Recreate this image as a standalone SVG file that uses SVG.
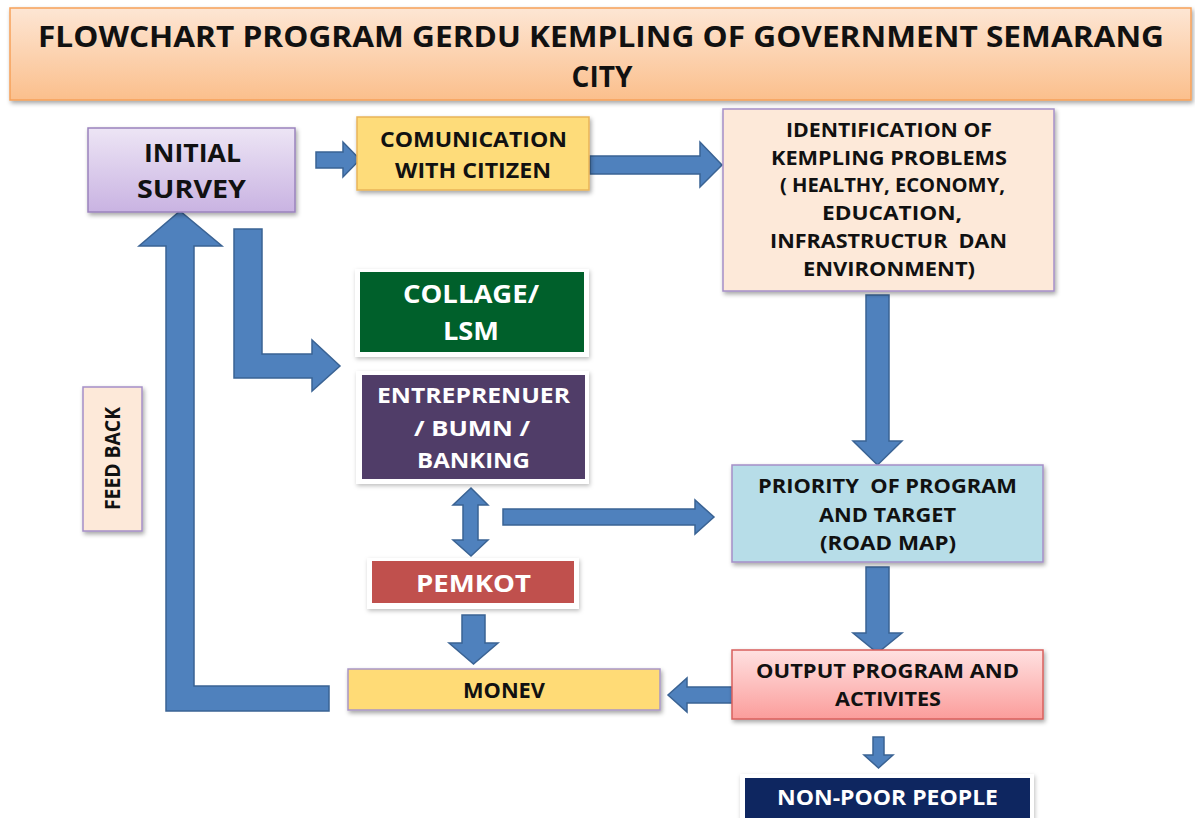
<svg xmlns="http://www.w3.org/2000/svg" width="1195" height="818" viewBox="0 0 1195 818">
  <defs>
    <linearGradient id="gTitle" x1="0" y1="0" x2="0" y2="1">
      <stop offset="0" stop-color="#fde6d4"/>
      <stop offset="1" stop-color="#fbbf8c"/>
    </linearGradient>
    <linearGradient id="gSurvey" x1="0" y1="0" x2="0" y2="1">
      <stop offset="0" stop-color="#ede5f5"/>
      <stop offset="1" stop-color="#c9b3e2"/>
    </linearGradient>
    <linearGradient id="gOutput" x1="0" y1="0" x2="0" y2="1">
      <stop offset="0" stop-color="#ffe1e1"/>
      <stop offset="1" stop-color="#fb9d9b"/>
    </linearGradient>
    <filter id="shadow" x="-10%" y="-10%" width="130%" height="140%">
      <feDropShadow dx="1.5" dy="2.5" stdDeviation="2" flood-color="#000" flood-opacity="0.35"/>
    </filter>
    <filter id="softShadow" x="-10%" y="-10%" width="130%" height="140%">
      <feDropShadow dx="1" dy="2" stdDeviation="2" flood-color="#000" flood-opacity="0.25"/>
    </filter>
  </defs>
  <style>
    text { font-family: "Open Sans", Lato, "Liberation Sans", sans-serif; font-weight: bold; text-anchor: middle; }
    .dark { fill: #111; }
    .light { fill: #fff; }
    .arrow { fill: #4f81bd; stroke: #3a6394; stroke-width: 1.5; stroke-linejoin: miter; }
    .frame { fill: #fff; filter: url(#softShadow); }
    .box { filter: url(#shadow); }
  </style>

  <rect width="1195" height="818" fill="#fff"/>

  <!-- title banner -->
  <g id="title">
    <rect class="box" x="10" y="8" width="1181" height="92" fill="url(#gTitle)" stroke="#f6a15a" stroke-width="1.5"/>
    <text class="dark" x="601" y="47" font-size="28" textLength="1126" lengthAdjust="spacingAndGlyphs">FLOWCHART PROGRAM GERDU KEMPLING OF GOVERNMENT SEMARANG</text>
    <text class="dark" x="602" y="87" font-size="28" textLength="61" lengthAdjust="spacingAndGlyphs">CITY</text>
  </g>

  <!-- connectors -->
  <g id="connectors">
    <!-- survey to communication -->
    <polygon class="arrow" points="316,152 343,152 343,142 360,159.5 343,177 343,168 316,168"/>
    <!-- communication to identification -->
    <polygon class="arrow" points="590,156 700,156 700,142 722,165 700,187 700,174 590,174"/>
    <!-- identification down to priority -->
    <polygon class="arrow" points="866,295 889,295 889,441 902,441 877.5,465 853,441 866,441"/>
    <!-- priority down to output -->
    <polygon class="arrow" points="866,567 889,567 889,633 902,633 877.5,653 853,633 866,633"/>
    <!-- output down to non-poor people -->
    <polygon class="arrow" points="873,737 884,737 884,755 893,755 878.5,768 864,755 873,755"/>
    <!-- output to monev -->
    <polygon class="arrow" points="733,687 733,703 687,703 687,712 668,695 687,678 687,687"/>
    <!-- survey to collage / entreprenuer (elbow) -->
    <polygon class="arrow" points="234,229 262,229 262,354 312,354 312,340 340,366 312,391 312,378 234,378"/>
    <!-- entreprenuer and pemkot (two-way) -->
    <polygon class="arrow" points="471,488 488,505 478,505 478,540 488,540 471,556 453,540 463,540 463,505 453,505"/>
    <!-- towards priority -->
    <polygon class="arrow" points="503,509 695,509 695,500 714,517 695,534 695,525 503,525"/>
    <!-- pemkot down to monev -->
    <polygon class="arrow" points="462,615 485,615 485,643 498,643 473.5,664 449,643 462,643"/>
    <!-- feedback loop monev back to survey -->
    <polygon class="arrow" points="329,686 329,711 166,711 166,246 139,246 180,211 222,246 194,246 194,686"/>
  </g>

  <!-- nodes -->
  <g id="node-initial-survey">
    <rect class="box" x="88" y="128" width="207" height="84" fill="url(#gSurvey)" stroke="#9a83bd" stroke-width="1.5"/>
    <text class="dark" x="192.5" y="162" font-size="25" textLength="97" lengthAdjust="spacingAndGlyphs">INITIAL</text>
    <text class="dark" x="191.5" y="198" font-size="25" textLength="109" lengthAdjust="spacingAndGlyphs">SURVEY</text>
  </g>

  <g id="node-communication">
    <rect class="box" x="357" y="117" width="232" height="73" fill="#fedc7a" stroke="#e9b458" stroke-width="1.5"/>
    <text class="dark" x="473.5" y="147" font-size="21" textLength="187" lengthAdjust="spacingAndGlyphs">COMUNICATION</text>
    <text class="dark" x="473" y="178" font-size="21" textLength="156" lengthAdjust="spacingAndGlyphs">WITH CITIZEN</text>
  </g>

  <g id="node-identification">
    <rect class="box" x="723" y="109" width="331" height="182" fill="#fde9d9" stroke="#a58fc7" stroke-width="1.5"/>
    <text class="dark" x="889" y="136.5" font-size="20" textLength="206" lengthAdjust="spacingAndGlyphs">IDENTIFICATION OF</text>
    <text class="dark" x="889" y="165" font-size="20" textLength="236" lengthAdjust="spacingAndGlyphs">KEMPLING PROBLEMS</text>
    <text class="dark" x="892.5" y="192" font-size="20" xml:space="preserve" textLength="225" lengthAdjust="spacingAndGlyphs">( HEALTHY, ECONOMY,</text>
    <text class="dark" x="892" y="220" font-size="20" textLength="140" lengthAdjust="spacingAndGlyphs">EDUCATION,</text>
    <text class="dark" x="888.5" y="248" font-size="20" xml:space="preserve" textLength="237" lengthAdjust="spacingAndGlyphs">INFRASTRUCTUR  DAN</text>
    <text class="dark" x="889" y="276" font-size="20" textLength="172" lengthAdjust="spacingAndGlyphs">ENVIRONMENT)</text>
  </g>

  <g id="node-collage">
    <rect class="frame" x="355" y="269" width="234" height="88"/>
    <rect x="360" y="272" width="224" height="80" fill="#00602b"/>
    <text class="light" x="471" y="303" font-size="25" textLength="136" lengthAdjust="spacingAndGlyphs">COLLAGE/</text>
    <text class="light" x="471" y="340" font-size="25" textLength="56" lengthAdjust="spacingAndGlyphs">LSM</text>
  </g>

  <g id="node-entreprenuer">
    <rect class="frame" x="356" y="371" width="233" height="113"/>
    <rect x="362" y="375" width="223" height="104" fill="#503d68"/>
    <text class="light" x="473.5" y="403" font-size="21" textLength="193" lengthAdjust="spacingAndGlyphs">ENTREPRENUER</text>
    <text class="light" x="472" y="436" font-size="21" textLength="116" lengthAdjust="spacingAndGlyphs">/ BUMN /</text>
    <text class="light" x="473.5" y="468" font-size="21" textLength="113" lengthAdjust="spacingAndGlyphs">BANKING</text>
  </g>

  <g id="node-pemkot">
    <rect class="frame" x="367" y="558" width="212" height="51"/>
    <rect x="372" y="561" width="202" height="42" fill="#c0504d"/>
    <text class="light" x="473.5" y="592" font-size="24" textLength="115" lengthAdjust="spacingAndGlyphs">PEMKOT</text>
  </g>

  <g id="node-monev">
    <rect class="box" x="348" y="669" width="312" height="41" fill="#ffdb76" stroke="#a996c6" stroke-width="1.5"/>
    <text class="dark" x="504" y="698" font-size="21" textLength="82" lengthAdjust="spacingAndGlyphs">MONEV</text>
  </g>

  <g id="node-priority">
    <rect class="box" x="732" y="465" width="311" height="97" fill="#b7dde8" stroke="#a58fc7" stroke-width="1.5"/>
    <text class="dark" x="887.5" y="493" font-size="20" xml:space="preserve" textLength="259" lengthAdjust="spacingAndGlyphs">PRIORITY  OF PROGRAM</text>
    <text class="dark" x="887.5" y="522" font-size="20" textLength="137" lengthAdjust="spacingAndGlyphs">AND TARGET</text>
    <text class="dark" x="888" y="550" font-size="20" textLength="136" lengthAdjust="spacingAndGlyphs">(ROAD MAP)</text>
  </g>

  <g id="node-output">
    <rect class="box" x="732" y="650" width="311" height="69" fill="url(#gOutput)" stroke="#d9605d" stroke-width="1.5"/>
    <text class="dark" x="887.5" y="678" font-size="20" textLength="263" lengthAdjust="spacingAndGlyphs">OUTPUT PROGRAM AND</text>
    <text class="dark" x="888" y="706" font-size="20" textLength="106" lengthAdjust="spacingAndGlyphs">ACTIVITES</text>
  </g>

  <g id="node-non-poor">
    <rect class="frame" x="740" y="774" width="294" height="46"/>
    <rect x="745" y="778" width="285" height="40" fill="#0e2660"/>
    <text class="light" x="887.5" y="805" font-size="21" textLength="221" lengthAdjust="spacingAndGlyphs">NON-POOR PEOPLE</text>
  </g>

  <g id="node-feedback">
    <rect class="box" x="83" y="387" width="59" height="144" fill="#fde9d9" stroke="#a58fc7" stroke-width="1.5"/>
    <text class="dark" transform="translate(120,458.5) rotate(-90)" font-size="21" textLength="103" lengthAdjust="spacingAndGlyphs">FEED BACK</text>
  </g>
</svg>
